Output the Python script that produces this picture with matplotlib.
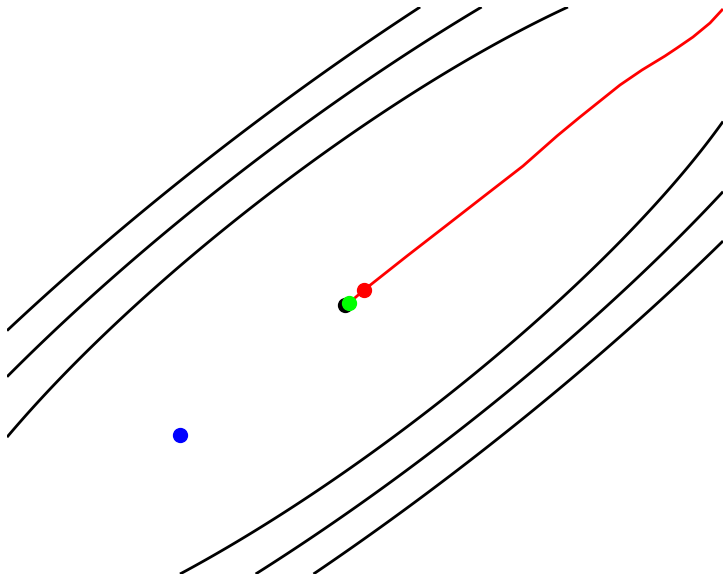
import numpy as np
import matplotlib
matplotlib.use("Agg")
import matplotlib.pyplot as plt

# quadratic bowl f(x, y) = a*x^2 + b*x*y + c*y^2, minimum at the origin
coef_a = 0.2285
coef_b = -0.5011
coef_c = 0.3596
levels = [1.0, 1.58, 2.2]

# descent trajectory
path_x = [3.77, 3.65, 3.48, 3.32, 3.20, 2.97, 2.75, 2.55, 2.35, 2.12, 1.78, 1.38, 1.02, 0.62, 0.19, 0.04]
path_y = [2.95, 2.82, 2.68, 2.57, 2.49, 2.35, 2.20, 2.04, 1.88, 1.69, 1.39, 1.08, 0.80, 0.49, 0.15, 0.02]

minimum = (0.0, 0.0)
last_iter = (0.19, 0.15)
estimate = (0.04, 0.02)
start = (-1.65, -1.30)

fig = plt.figure(figsize=(7.23, 5.74), dpi=100)
ax = fig.add_axes([7 / 723, 0, 716 / 723, 567 / 574])

xs = np.linspace(-3.38, 3.78, 400)
ys = np.linspace(-2.69, 2.98, 400)
X, Y = np.meshgrid(xs, ys)
Z = coef_a * X**2 + coef_b * X * Y + coef_c * Y**2
ax.contour(X, Y, Z, levels=levels, colors="black", linewidths=2)

ax.plot(path_x, path_y, color="red", linewidth=2)
ax.scatter(*minimum, s=100, color="black", zorder=3)
ax.scatter(*last_iter, s=100, color="red", zorder=3)
ax.scatter(*estimate, s=100, color="lime", zorder=4)
ax.scatter(*start, s=100, color="blue", zorder=3)

ax.set_xlim(-3.38, 3.78)
ax.set_ylim(-2.69, 2.98)
ax.axis("off")

fig.savefig("out.png", dpi=100)
